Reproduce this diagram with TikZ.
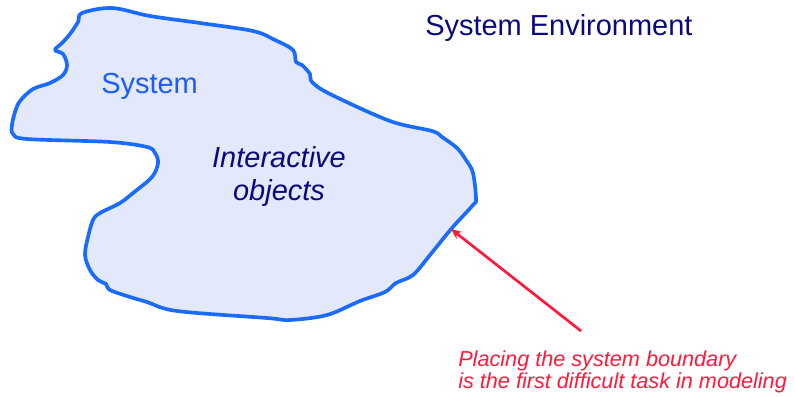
\documentclass[tikz,border=0pt]{standalone}
\usepackage{fontspec}
\setmainfont{Liberation Sans}
\usepackage{tikz}
\usetikzlibrary{arrows.meta, positioning}
\definecolor{sysblue}{HTML}{1A6BFF}
\definecolor{sysfill}{HTML}{E3E8FA}
\definecolor{sysnavy}{HTML}{0A0A80}
\definecolor{syslabel}{HTML}{1A5CFF}
\definecolor{notered}{HTML}{FF1A3A}

\begin{document}
\begin{tikzpicture}[x=0.025cm, y=-0.025cm,
  boundary/.style={draw=sysblue, line width=2.6pt, fill=sysfill, line join=round},
  bigtext/.style={inner sep=0pt, font=\fontsize{20.6}{23.4}\selectfont},
  notetext/.style={inner sep=0pt, align=left, text=notered,
    font=\fontsize{15.4}{15.4}\selectfont\itshape},
  arrow/.style={-{Stealth[length=2.6mm, width=2.2mm]}, line width=1.9pt, draw=notered}]
  \useasboundingbox (0,0) rectangle (795,396);
  % the system blob
  \draw[boundary] plot[smooth cycle, tension=0.55] coordinates {
    (82,13) (112,8) (150,16) (200,23) (253,31) (275,40) (293,50) (296,62)
    (302,65) (310,74) (312,82) (330,94) (390,121) (432,131) (442,137)
    (457,148) (466,160) (473,173) (476,199) (473,205) (452,228) (430,255)
    (413,275) (396,283) (385,292) (360,301) (327,315) (290,320) (267,318)
    (177,311) (147,302) (130,297) (110,290) (106,284) (98,280) (90,270)
    (85,255) (88,237) (93,220) (100,213) (120,203) (133,193) (152,177)
    (158,163) (155,153) (147,147) (110,142) (27,139) (13,134) (12,125)
    (15,112) (20,101) (33,89) (50,83) (63,75) (67,65) (63,54) (55,50)
    (62,43) (70,34) (78,22)};
  \node[bigtext, text=sysnavy, anchor=base west] (env) at (425,35) {System Environment};
  \node[bigtext, text=syslabel, anchor=base west] (sys) at (101,93) {System};
  \node[bigtext, text=sysnavy, align=center, anchor=base, font=\fontsize{20.6}{23.4}\selectfont\itshape]
    (objs) at (279,200) {Interactive\\objects};
  \node[notetext, anchor=base west] (note) at (458,388)
    {Placing the system boundary\\is the first difficult task in modeling};
  \coordinate (tip) at (451,229);
  \coordinate (tail) at (581,331);
  \draw[arrow] (tail) -- (tip);
\end{tikzpicture}
\end{document}
